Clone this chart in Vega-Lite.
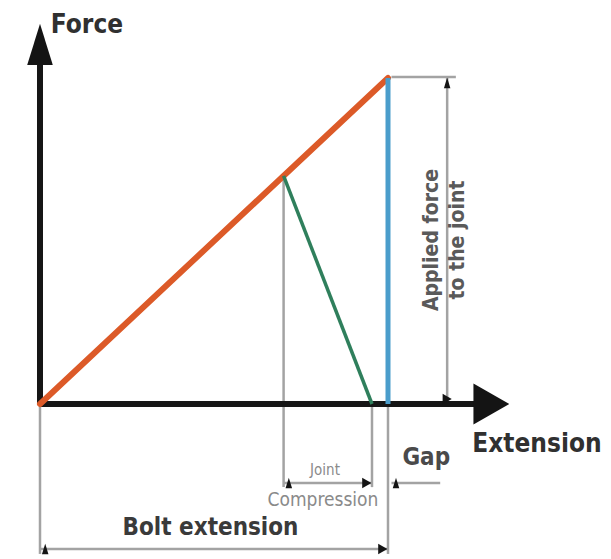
{
  "$schema": "https://vega.github.io/schema/vega-lite/v6.json",
  "width": 611,
  "height": 559,
  "padding": 0,
  "autosize": "none",
  "background": "white",
  "config": {"view": {"stroke": null}},
  "datasets": {
    "segments": [
      {"part": "joint left extension", "kind": "dim", "x": 7.0, "y": 7.0, "x2": 7.0, "y2": -2.55},
      {"part": "joint right extension", "kind": "dim", "x": 9.54, "y": 0, "x2": 9.54, "y2": -2.55},
      {"part": "bolt right extension", "kind": "dim", "x": 10.0, "y": 0, "x2": 10.0, "y2": -4.6},
      {"part": "bolt left extension", "kind": "dim", "x": 0, "y": 0, "x2": 0, "y2": -4.6},
      {"part": "joint compression", "kind": "dim", "x": 7.0, "y": -2.42, "x2": 9.54, "y2": -2.42},
      {"part": "gap leader", "kind": "dim", "x": 10.1, "y": -2.42, "x2": 11.5, "y2": -2.42},
      {"part": "bolt extension", "kind": "dim", "x": 0, "y": -4.45, "x2": 10.0, "y2": -4.45},
      {"part": "applied force", "kind": "dim", "x": 11.7, "y": 10.0, "x2": 11.7, "y2": 0},
      {"part": "applied force top", "kind": "dim", "x": 10.1, "y": 10.03, "x2": 11.95, "y2": 10.03},
      {"part": "force axis", "kind": "axis", "x": 0, "y": 0, "x2": 0, "y2": 10.4},
      {"part": "extension axis", "kind": "axis", "x": 0, "y": 0, "x2": 12.64, "y2": 0},
      {"part": "bolt", "kind": "bolt", "x": 0, "y": 0, "x2": 10.0, "y2": 10.0},
      {"part": "load", "kind": "load", "x": 10.0, "y": 0, "x2": 10.0, "y2": 10.0},
      {"part": "joint", "kind": "joint", "x": 7.0, "y": 7.0, "x2": 9.54, "y2": 0}
    ],
    "axisHeads": [
      {"axis": "force", "dir": "up", "x": 0, "y": 11.03},
      {"axis": "extension", "dir": "right", "x": 12.97, "y": 0}
    ],
    "dimHeads": [
      {"part": "joint compression", "dir": "left", "x": 7.15, "y": -2.42},
      {"part": "joint compression", "dir": "right", "x": 9.39, "y": -2.42},
      {"part": "gap", "dir": "left", "x": 10.23, "y": -2.42},
      {"part": "bolt extension", "dir": "left", "x": 0.15, "y": -4.45},
      {"part": "bolt extension", "dir": "right", "x": 9.85, "y": -4.45},
      {"part": "applied force", "dir": "up", "x": 11.7, "y": 9.85},
      {"part": "applied force", "dir": "down", "x": 11.7, "y": 0.15}
    ],
    "labels": [
      {"style": "axis", "text": "Force", "x": 1.35, "y": 11.63},
      {"style": "axis", "text": "Extension", "x": 14.28, "y": -1.23},
      {"style": "bolt", "text": "Bolt extension", "x": 4.9, "y": -3.8},
      {"style": "gap", "text": "Gap", "x": 11.1, "y": -1.65},
      {"style": "jointTop", "text": "Joint", "x": 8.19, "y": -2.02},
      {"style": "jointBottom", "text": "Compression", "x": 8.13, "y": -2.94},
      {"style": "force", "text": "Applied force", "x": 11.26, "y": 5.03},
      {"style": "force", "text": "to the joint", "x": 12.01, "y": 5.03}
    ]
  },
  "encoding": {
    "x": {"field": "x", "type": "quantitative", "scale": {"domain": [-1.1494, 16.408], "nice": false, "zero": false}, "axis": null},
    "y": {"field": "y", "type": "quantitative", "scale": {"domain": [-4.755, 12.393], "nice": false, "zero": false}, "axis": null}
  },
  "layer": [
    {
      "data": {"name": "segments"},
      "transform": [{"filter": "datum.kind == 'dim'"}],
      "mark": {"type": "rule", "strokeCap": "butt", "color": "#a3a3a3", "strokeWidth": 2.5},
      "encoding": {"x2": {"field": "x2"}, "y2": {"field": "y2"}}
    },
    {
      "data": {"name": "segments"},
      "transform": [{"filter": "datum.kind == 'axis'"}],
      "mark": {"type": "rule", "strokeCap": "butt", "color": "#161616", "strokeWidth": 6},
      "encoding": {"x2": {"field": "x2"}, "y2": {"field": "y2"}}
    },
    {
      "data": {"name": "segments"},
      "transform": [{"filter": "datum.kind == 'bolt'"}],
      "mark": {"type": "rule", "strokeCap": "round", "color": "#dc5a28", "strokeWidth": 6},
      "encoding": {"x2": {"field": "x2"}, "y2": {"field": "y2"}}
    },
    {
      "data": {"name": "segments"},
      "transform": [{"filter": "datum.kind == 'load'"}],
      "mark": {"type": "rule", "strokeCap": "butt", "color": "#4a9dcb", "strokeWidth": 5},
      "encoding": {"x2": {"field": "x2"}, "y2": {"field": "y2"}}
    },
    {
      "data": {"name": "segments"},
      "transform": [{"filter": "datum.kind == 'joint'"}],
      "mark": {"type": "rule", "strokeCap": "butt", "color": "#2f7f5c", "strokeWidth": 3.5},
      "encoding": {"x2": {"field": "x2"}, "y2": {"field": "y2"}}
    },
    {
      "data": {"name": "axisHeads"},
      "mark": {"type": "point", "filled": true, "opacity": 1, "color": "#141414"},
      "encoding": {
        "shape": {"field": "dir", "type": "nominal", "legend": null,
          "scale": {"domain": ["up", "right"], "range": ["M0,-1L0.62,1L-0.62,1Z", "M0.87,0L-0.87,-1L-0.87,1Z"]}},
        "size": {"value": 1700}
      }
    },
    {
      "data": {"name": "dimHeads"},
      "mark": {"type": "point", "filled": true, "opacity": 1, "color": "#141414"},
      "encoding": {
        "shape": {"field": "dir", "type": "nominal", "legend": null,
          "scale": {"domain": ["left", "right", "up", "down"], "range": ["M-1,0L1,-0.6L1,0.6Z", "M1,0L-1,-0.6L-1,0.6Z", "M0,-1L0.6,1L-0.6,1Z", "M0,1L0.6,-1L-0.6,-1Z"]}},
        "size": {"value": 110}
      }
    },
    {
      "data": {"name": "labels"},
      "transform": [{"filter": "datum.style == 'axis'"}],
      "mark": {"type": "text", "font": "DejaVu Sans Condensed, sans-serif", "fontSize": 26, "fontWeight": "bold", "color": "#303030", "baseline": "middle"},
      "encoding": {"text": {"field": "text"}}
    },
    {
      "data": {"name": "labels"},
      "transform": [{"filter": "datum.style == 'bolt'"}],
      "mark": {"type": "text", "font": "DejaVu Sans Condensed, sans-serif", "fontSize": 24, "fontWeight": "bold", "color": "#3a3a3a", "baseline": "middle"},
      "encoding": {"text": {"field": "text"}}
    },
    {
      "data": {"name": "labels"},
      "transform": [{"filter": "datum.style == 'gap'"}],
      "mark": {"type": "text", "font": "DejaVu Sans Condensed, sans-serif", "fontSize": 24, "fontWeight": "bold", "color": "#4a4a4a", "baseline": "middle"},
      "encoding": {"text": {"field": "text"}}
    },
    {
      "data": {"name": "labels"},
      "transform": [{"filter": "datum.style == 'jointTop'"}],
      "mark": {"type": "text", "font": "DejaVu Sans Condensed, sans-serif", "fontSize": 15, "color": "#8a8a8a", "baseline": "middle"},
      "encoding": {"text": {"field": "text"}}
    },
    {
      "data": {"name": "labels"},
      "transform": [{"filter": "datum.style == 'jointBottom'"}],
      "mark": {"type": "text", "font": "DejaVu Sans Condensed, sans-serif", "fontSize": 19, "color": "#8a8a8a", "baseline": "middle"},
      "encoding": {"text": {"field": "text"}}
    },
    {
      "data": {"name": "labels"},
      "transform": [{"filter": "datum.style == 'force'"}],
      "mark": {"type": "text", "font": "DejaVu Sans Condensed, sans-serif", "fontSize": 21, "fontWeight": "bold", "color": "#5a5a5a", "baseline": "middle", "angle": 270},
      "encoding": {"text": {"field": "text"}}
    }
  ]
}
